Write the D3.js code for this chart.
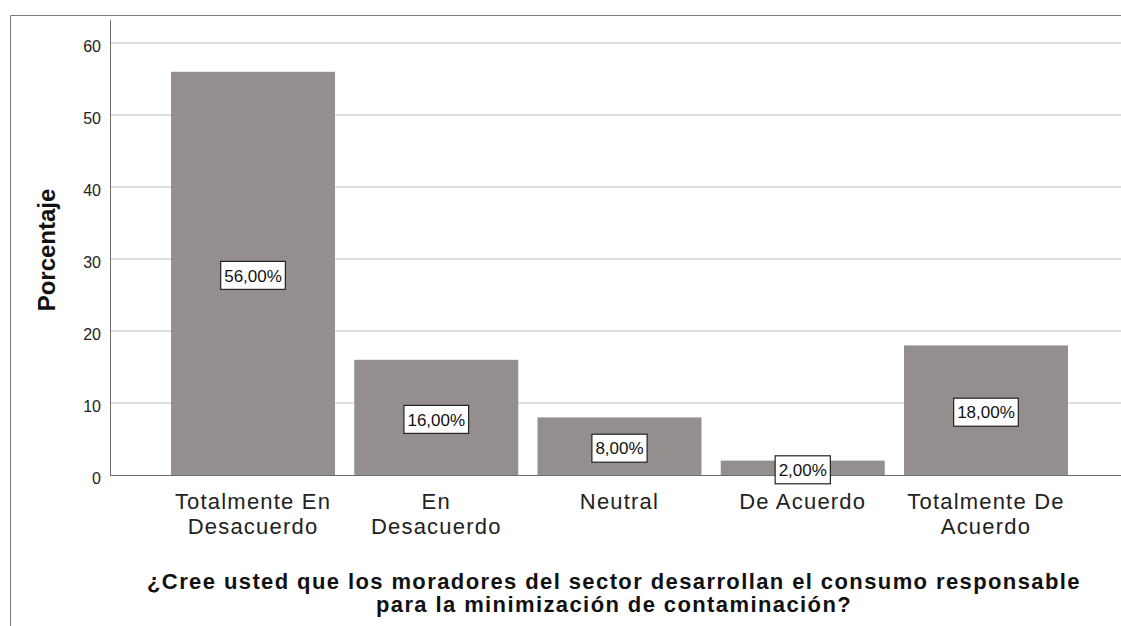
<!DOCTYPE html>
<html>
<head>
<meta charset="utf-8">
<script src="https://cdn.jsdelivr.net/npm/d3@7"></script>
<style>
  body { margin: 0; background: #fff; }
  svg { display: block; font-family: "Liberation Sans", Arial, sans-serif; }
</style>
</head>
<body>
<script>
// chart data
var categories = ["Totalmente En|Desacuerdo", "En|Desacuerdo", "Neutral", "De Acuerdo", "Totalmente De|Acuerdo"];
var values = [56, 16, 8, 2, 18];
var valueLabels = ["56,00%", "16,00%", "8,00%", "2,00%", "18,00%"];
var yTicks = [0, 10, 20, 30, 40, 50, 60];
var titleLines = ["¿Cree usted que los moradores del sector desarrollan el consumo responsable",
                  "para la minimización de contaminación?"];

var width = 1121,
    height = 626;

var svg = d3.select("body").append("svg")
    .attr("width", width)
    .attr("height", height);

// outer frame (top and left only)
svg.append("line").attr("x1", 10.5).attr("x2", width).attr("y1", 15.5).attr("y2", 15.5)
    .attr("stroke", "#7a7a7a").attr("stroke-width", 1);
svg.append("line").attr("x1", 10.5).attr("x2", 10.5).attr("y1", 15.5).attr("y2", height)
    .attr("stroke", "#7a7a7a").attr("stroke-width", 1);

var x = d3.scaleBand()
    .domain(categories)
    .range([110, 1129])
    .paddingInner(0.105)
    .paddingOuter(0.333);

var y = d3.scaleLinear()
    .domain([0, 60])
    .range([475, 43]);

// gridlines
svg.append("g").selectAll("line")
    .data(yTicks.filter(function(d) { return d > 0; }))
  .enter().append("line")
    .attr("x1", 111).attr("x2", width)
    .attr("y1", function(d) { return y(d); })
    .attr("y2", function(d) { return y(d); })
    .attr("stroke", "#d4d4d4")
    .attr("stroke-width", 1.5);

// bars
svg.append("g").selectAll("rect")
    .data(values)
  .enter().append("rect")
    .attr("x", function(d, i) { return x(categories[i]); })
    .attr("width", x.bandwidth())
    .attr("y", function(d) { return y(d); })
    .attr("height", function(d) { return y(0) - y(d); })
    .attr("fill", "#948f8e");

// axes lines
svg.append("line").attr("x1", 110.5).attr("x2", 110.5).attr("y1", 20).attr("y2", 475.5)
    .attr("stroke", "#6e6e6e").attr("stroke-width", 1);
svg.append("line").attr("x1", 110).attr("x2", width).attr("y1", 475.5).attr("y2", 475.5)
    .attr("stroke", "#6e6e6e").attr("stroke-width", 1);

// y tick labels
svg.append("g").selectAll("text")
    .data(yTicks)
  .enter().append("text")
    .attr("x", 101)
    .attr("y", function(d) { return y(d) + 3; })
    .attr("dy", "0.36em")
    .attr("text-anchor", "end")
    .attr("font-size", 16)
    .attr("fill", "#222")
    .text(function(d) { return d; });

// y axis title
svg.append("text")
    .attr("transform", "translate(55,250) rotate(-90)")
    .attr("text-anchor", "middle")
    .attr("font-size", 24)
    .attr("font-weight", "bold")
    .attr("fill", "#111")
    .text("Porcentaje");

// x tick labels
var xl = svg.append("g").selectAll("text")
    .data(categories)
  .enter().append("text")
    .attr("text-anchor", "middle")
    .attr("font-size", 22)
    .attr("letter-spacing", 1.2)
    .attr("fill", "#222")
    .attr("x", function(d) { return x(d) + x.bandwidth() / 2; })
    .attr("y", 509);
xl.selectAll("tspan")
    .data(function(d) { return d.split("|"); })
  .enter().append("tspan")
    .attr("x", function() { return d3.select(this.parentNode).attr("x"); })
    .attr("dy", function(d, i) { return i ? 25 : 0; })
    .text(function(d) { return d; });

// value labels with boxes
var lab = svg.append("g").selectAll("g")
    .data(values)
  .enter().append("g")
    .attr("transform", function(d, i) {
      return "translate(" + (x(categories[i]) + x.bandwidth() / 2) + "," + (y(d / 2) + 2) + ")";
    });
lab.append("text")
    .attr("text-anchor", "middle")
    .attr("dy", "0.36em")
    .attr("font-size", 17)
    .attr("fill", "#111")
    .text(function(d, i) { return valueLabels[i]; });
lab.each(function() {
  var g = d3.select(this);
  var bb = g.select("text").node().getBBox();
  g.insert("rect", "text")
      .attr("x", bb.x - 3.5)
      .attr("y", -14)
      .attr("width", bb.width + 7)
      .attr("height", 28)
      .attr("fill", "#fff")
      .attr("stroke", "#222")
      .attr("stroke-width", 1.2);
});

// chart title
svg.append("g").selectAll("text")
    .data(titleLines)
  .enter().append("text")
    .attr("x", 614)
    .attr("y", function(d, i) { return 589 + i * 23; })
    .attr("text-anchor", "middle")
    .attr("font-size", 22)
    .attr("letter-spacing", 1.4)
    .attr("font-weight", "bold")
    .attr("fill", "#111")
    .text(function(d) { return d; });
</script>
</body>
</html>
